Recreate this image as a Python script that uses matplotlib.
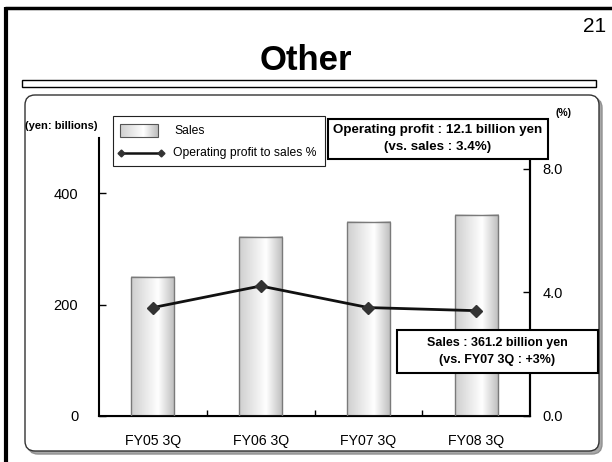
import numpy as np
import matplotlib.pyplot as plt
from matplotlib.colors import LinearSegmentedColormap
from matplotlib.patches import Rectangle, FancyBboxPatch

plt.rcParams['font.family'] = ['Liberation Sans', 'DejaVu Sans']

# data
quarters = ['FY05 3Q', 'FY06 3Q', 'FY07 3Q', 'FY08 3Q']
sales = [250, 322, 349, 361.2]          # yen billions
op_margin = [3.5, 4.2, 3.5, 3.4]        # operating profit to sales %
sales_ticks = [0, 200, 400]
margin_ticks = [0.0, 4.0, 8.0]

W, H = 612, 462
fig = plt.figure(figsize=(W / 100, H / 100), dpi=100)


def px(x0, y0, x1, y1):
    # pixel box with top-left origin -> figure rect
    return [x0 / W, 1 - y1 / H, (x1 - x0) / W, (y1 - y0) / H]


grad = np.linspace(0, 1, 64).reshape(1, -1)
bar_cmap = LinearSegmentedColormap.from_list(
    'bar', [(0, '#cfcfcf'), (0.62, '#ffffff'), (1, '#bdbdbd')])

# background layer: slide frame, title, panel
bg = fig.add_axes([0, 0, 1, 1], zorder=0)
bg.plot([5, 612], [8, 8], color='black', lw=2.5, solid_capstyle='butt')
bg.plot([6, 6], [7, 462], color='black', lw=3, solid_capstyle='butt')
bg.text(595, 26, '21', fontsize=15, ha='center', va='center')
bg.text(306, 61, 'Other', fontsize=25, fontweight='bold', ha='center', va='center')
bg.add_patch(Rectangle((22, 80), 574, 7, facecolor='white', edgecolor='black', lw=1))
bg.add_patch(FancyBboxPatch((28, 98), 574, 356, boxstyle='round,pad=0,rounding_size=10',
                            facecolor='#a8a8a8', edgecolor='#909090', lw=1))
bg.add_patch(FancyBboxPatch((25, 95), 574, 356, boxstyle='round,pad=0,rounding_size=10',
                            facecolor='white', edgecolor='#333333', lw=1))
bg.set_xlim(0, W)
bg.set_ylim(H, 0)
bg.axis('off')

# main chart
ax = fig.add_axes(px(99, 138, 530, 415.5), zorder=1)
ax.patch.set_alpha(0)
x = np.arange(len(quarters))
bars = ax.bar(x, sales, width=0.4, facecolor='none', edgecolor='#7a7a7a', lw=1, zorder=3)
for b in bars:
    ax.imshow(grad, cmap=bar_cmap, aspect='auto', zorder=2,
              extent=[b.get_x(), b.get_x() + b.get_width(), 0, b.get_height()])
ax.set_xlim(-0.5, len(quarters) - 0.5)
ax.set_ylim(0, 500)
ax.set_yticks(sales_ticks)
ax.set_yticklabels([str(v) for v in sales_ticks])
ax.set_xticks(x[:-1] + 0.5)
ax.set_xticklabels([])
ax.set_xticks(x, minor=True)
ax.set_xticklabels(quarters, minor=True)
ax.tick_params(axis='x', which='major', direction='in', length=4, width=1)
ax.tick_params(axis='x', which='minor', length=0, pad=13, labelsize=10.2)
ax.tick_params(axis='y', direction='in', length=5, width=1, pad=15, labelsize=10.5)
ax.spines['top'].set_visible(False)
for s in ['left', 'bottom', 'right']:
    ax.spines[s].set_linewidth(1.5)

ax2 = ax.twinx()
ax2.plot(x, op_margin, color='#111111', lw=2, marker='D', markersize=6,
         markerfacecolor='#333333', markeredgecolor='#333333', zorder=4)
ax2.set_ylim(0, 9)
ax2.set_yticks(margin_ticks)
ax2.set_yticklabels(['%.1f' % v for v in margin_ticks])
ax2.tick_params(axis='y', direction='in', length=5, width=1, pad=9, labelsize=10.5)
ax2.spines['top'].set_visible(False)
ax2.spines['right'].set_linewidth(1.5)
ax2.spines['left'].set_visible(False)

# foreground layer: legend and callouts
fg = fig.add_axes([0, 0, 1, 1], zorder=5)
fg.patch.set_alpha(0)
fg.text(25, 126, '(yen: billions)', fontsize=8, fontweight='bold', ha='left', va='center')
fg.text(556, 113, '(%)', fontsize=7.5, fontweight='bold', ha='left', va='center')

fg.add_patch(Rectangle((113, 116), 212, 50, facecolor='white', edgecolor='#222222', lw=0.8))
fg.imshow(grad, cmap=bar_cmap, aspect='auto', extent=[120, 158, 137, 124], zorder=3)
fg.add_patch(Rectangle((120, 124), 38, 13, facecolor='none', edgecolor='#555555', lw=0.8, zorder=4))
fg.plot([121, 161], [153, 153], color='#111111', lw=1.8, marker='D', markersize=3.5,
        markerfacecolor='#333333', markeredgecolor='#333333')
fg.text(174, 131, 'Sales', fontsize=8.7, ha='left', va='center')
fg.text(173, 153, 'Operating profit to sales %', fontsize=8.7, ha='left', va='center')

fg.add_patch(Rectangle((328, 119), 220, 40, facecolor='white', edgecolor='black', lw=1.5))
fg.text(438, 130, 'Operating profit : 12.1 billion yen', fontsize=9.6, fontweight='bold',
        ha='center', va='center')
fg.text(438, 147, '(vs. sales : 3.4%)', fontsize=9.6, fontweight='bold', ha='center', va='center')

fg.add_patch(Rectangle((397, 330), 201, 43, facecolor='white', edgecolor='black', lw=1.5))
fg.text(497, 343, 'Sales : 361.2 billion yen', fontsize=9, fontweight='bold',
        ha='center', va='center')
fg.text(497, 360, '(vs. FY07 3Q : +3%)', fontsize=9, fontweight='bold', ha='center', va='center')
fg.set_xlim(0, W)
fg.set_ylim(H, 0)
fg.axis('off')

fig.savefig('out.png', dpi=100)
